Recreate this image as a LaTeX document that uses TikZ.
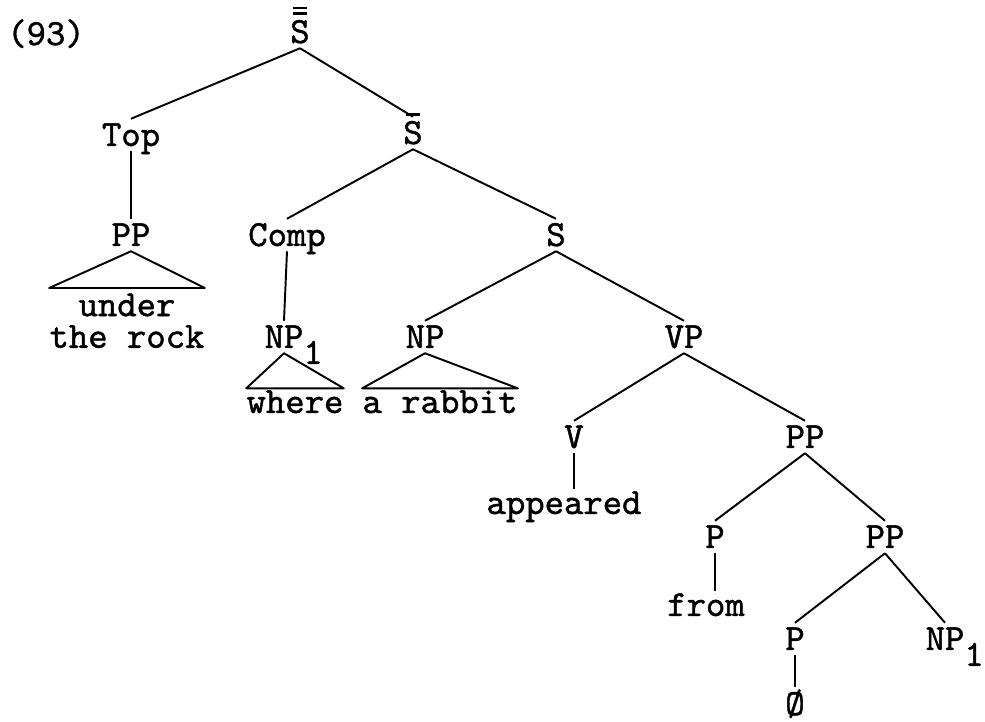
\documentclass[tikz,border=0pt]{standalone}
\usepackage{fontspec}
\usetikzlibrary{positioning}
\newfontfamily\typewriter{lmmono10-regular.otf}[FakeBold=1.2]
\newcommand{\treefont}{\fontsize{21}{18}\selectfont\typewriter}
\newcommand{\barline}{\hbox to 0.525em{\hss\vrule width 0.36em height 1.4pt depth 0pt\hss}}
\newcommand{\sbar}{\vbox{\offinterlineskip\barline\kern3pt\hbox{S}}}
\newcommand{\sdbar}{\vbox{\offinterlineskip\barline\kern1.8pt\barline\kern3pt\hbox{S}}}
\newcommand{\idx}[1]{\rlap{\raisebox{-9pt}{#1}}}

\begin{document}
\begin{tikzpicture}[
    x=0.02cm, y=-0.02cm,
    % node styles
    cat/.style = {
      anchor=base,
      inner sep=2.8pt,
      text height=12.5pt,
      text depth=0pt,
      font=\treefont
    },
    leaf/.style = {
      anchor=base,
      inner xsep=0pt,
      inner ysep=1pt,
      font=\treefont
    },
    % line styles
    branch/.style = {line width=1.1pt, line join=round}
  ]
  \useasboundingbox (0,0) rectangle (985,722);

  % --- Nodes
  \node[cat] (ex) at (46,45) {(93)};
  \node[cat] (sbb) at (300,43) {\sdbar};

  \node[cat] (top) at (131,146) {Top};
  \node[cat] (sb) at (413,144) {\sbar};

  \node[cat] (pp1) at (131,246) {PP};
  \node[leaf, align=center, anchor=north, inner ysep=3pt] (rock) at (127,288) {under\\the rock};

  \node[cat] (comp) at (287,246) {Comp};
  \node[cat] (s) at (556,246) {S};

  \node[cat] (np1) at (284,348) {NP\idx{1}};
  \node[leaf] (where) at (295,413) {where};
  \node[cat] (np) at (425,348) {NP};
  \node[leaf] (rabbit) at (440,413) {a rabbit};
  \node[cat] (vp) at (684,348) {VP};

  \node[cat] (v) at (574,448) {V};
  \node[leaf] (appeared) at (564,514) {appeared};
  \node[cat] (pp2) at (805,448) {PP};

  \node[cat] (p1) at (715,548) {P};
  \node[leaf] (from) at (706,616) {from};
  \node[cat] (pp3) at (885,548) {PP};

  \node[cat] (p2) at (795,650) {P};
  \node[leaf] (null) at (795,715) {Ø};
  \node[cat] (np1b) at (945,650) {NP\idx{1}};

  % --- Branches
  \draw[branch] (sbb.south) -- (top.north);
  \draw[branch] (sbb.south) -- (sb.north);
  \draw[branch] (top.south) -- (pp1.north);
  \draw[branch] (pp1.south) -- (rock.north west) -- (rock.north east) -- cycle;
  \draw[branch] (sb.south) -- (comp.north);
  \draw[branch] (sb.south) -- (s.north);
  \draw[branch] (comp.south) -- (np1.north);
  \draw[branch] (np1.south) -- (where.north west) -- (where.north east) -- cycle;
  \draw[branch] (s.south) -- (np.north);
  \draw[branch] (s.south) -- (vp.north);
  \draw[branch] (np.south) -- (rabbit.north west) -- (rabbit.north east) -- cycle;
  \draw[branch] (vp.south) -- (v.north);
  \draw[branch] (vp.south) -- (pp2.north);
  \draw[branch] (v.south) -- (v.south |- appeared.north);
  \draw[branch] (pp2.south) -- (p1.north);
  \draw[branch] (pp2.south) -- (pp3.north);
  \draw[branch] (p1.south) -- (p1.south |- from.north);
  \draw[branch] (pp3.south) -- (p2.north);
  \draw[branch] (pp3.south) -- (np1b.north);
  \draw[branch] (p2.south) -- (null.north);

\end{tikzpicture}
\end{document}
